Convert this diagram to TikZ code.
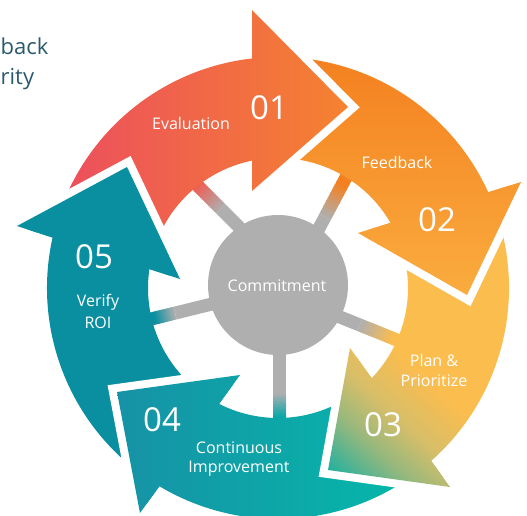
\documentclass[tikz,border=0pt]{standalone}
\usepackage{fontspec}
\setmainfont{Open Sans}
\usetikzlibrary{calc}
\definecolor{cgray}{RGB}{175,175,175}
\definecolor{c1a}{RGB}{236,78,94}
\definecolor{c1m}{RGB}{240,92,82}
\definecolor{c1b}{RGB}{245,130,48}
\definecolor{c2a}{RGB}{244,128,32}
\definecolor{c2b}{RGB}{250,172,62}
\definecolor{c3y}{RGB}{251,189,78}
\definecolor{c3m}{RGB}{215,190,105}
\definecolor{c3g}{RGB}{150,184,125}
\definecolor{c3t}{RGB}{30,176,160}
\definecolor{c4a}{RGB}{22,146,166}
\definecolor{c4b}{RGB}{5,185,170}
\definecolor{c5}{RGB}{9,143,160}
\definecolor{ctxt}{RGB}{42,90,110}
\pgfdeclarehorizontalshading{shthree}{100bp}{color(0bp)=(c3t); color(17bp)=(c3t); color(27bp)=(c3g); color(35bp)=(c3m); color(45bp)=(c3y); color(100bp)=(c3y)}
% arrow outlines (body sector + head triangle)
\newcommand\pthA{($(C)+(162:231)$) arc[start angle=162,end angle=91,radius=231] -- ($(C)+(91:130)$) arc[start angle=91,end angle=162,radius=130] -- cycle (252,-10) -- (348,-107) -- (252,-191) -- cycle}
\newcommand\hdA{(252,-10) -- (348,-107) -- (252,-191) -- cycle}
\newcommand\egA{(252,-10) -- (348,-107) -- (252,-191)}
\newcommand\pthB{($(C)+(91:231)$) arc[start angle=91,end angle=20,radius=231] -- ($(C)+(20:130)$) arc[start angle=20,end angle=91,radius=130] -- cycle (521,-182) -- (467,-295) -- (358,-233) -- cycle}
\newcommand\hdB{(521,-182) -- (467,-295) -- (358,-233) -- cycle}
\newcommand\egB{(521,-182) -- (467,-295) -- (358,-233)}
\newcommand\pthC{($(C)+(20:231)$) arc[start angle=20,end angle=-52,radius=231] -- ($(C)+(-52:130)$) arc[start angle=-52,end angle=20,radius=130] -- cycle (450,-487) -- (328,-470) -- (350,-348) -- cycle}
\newcommand\hdC{(450,-487) -- (328,-470) -- (350,-348) -- cycle}
\newcommand\egC{(450,-487) -- (328,-470) -- (350,-348)}
\newcommand\pthD{($(C)+(-52:231)$) arc[start angle=-52,end angle=-125,radius=231] -- ($(C)+(-125:130)$) arc[start angle=-125,end angle=-52,radius=130] -- cycle (140,-513) -- (117,-392) -- (240,-375) -- cycle}
\newcommand\hdD{(140,-513) -- (117,-392) -- (240,-375) -- cycle}
\newcommand\egD{(140,-513) -- (117,-392) -- (240,-375)}
\newcommand\pthE{($(C)+(235:231)$) arc[start angle=235,end angle=162,radius=231] -- ($(C)+(162:130)$) arc[start angle=162,end angle=235,radius=130] -- cycle (17,-226) -- (127,-167) -- (180,-279) -- cycle}
\newcommand\hdE{(17,-226) -- (127,-167) -- (180,-279) -- cycle}
\newcommand\egE{(17,-226) -- (127,-167) -- (180,-279)}
% spoke with colour blend: start, end, colour, blend from, blend to
\newcommand\spokeblend[5]{%
  \draw[spokeline, draw=cgray] (#1) -- ($(#1)!#4!(#2)$);
  \foreach \i in {0,...,11}{%
    \pgfmathsetmacro\fa{#4+(#5-#4)*\i/12}%
    \pgfmathsetmacro\fb{#4+(#5-#4)*(\i+1)/12+0.01}%
    \pgfmathtruncatemacro\pc{100*(\i+0.5)/12}%
    \draw[spokeline, draw=#3!\pc!cgray] ($(#1)!\fa!(#2)$) -- ($(#1)!\fb!(#2)$);
  }%
  \draw[spokeline, draw=#3] ($(#1)!#5!(#2)$) -- (#2);
}
\tikzset{
  spokeline/.style={line width=13pt, line cap=butt},
  gapline/.style={draw=white, line width=16pt, line join=miter},
  shA/.style={left color=c1a, middle color=c1m, right color=c1b},
  shB/.style={top color=c2a, middle color=c2a, bottom color=c2b},
  shC/.style={shading=shthree, shading angle=48},
  shD/.style={left color=c4a, right color=c4b},
  lbl/.style={text=white, inner sep=0pt, font=\fontsize{16}{20}\selectfont, align=center},
  num/.style={text=white, inner sep=0pt, font=\fontsize{33}{36}\selectfont},
  toptxt/.style={text=ctxt, inner sep=0pt, font=\fontsize{22}{26}\selectfont, anchor=base west}
}
\begin{document}
\begin{tikzpicture}[x=1pt,y=1pt]
\useasboundingbox (0,0) rectangle (527,-516);
\clip (0,0) rectangle (527,-516);
\coordinate (C) at (278,-288);

% partial text at top left
\node[toptxt] (tback) at (0.5,-55) {back};
\node[toptxt] (trity) at (0.5,-85) {rity};

% spokes
\coordinate (s1a) at (240,-228); \coordinate (s1b) at (190,-178);
\coordinate (s2a) at (316,-234); \coordinate (s2b) at (352,-166);
\coordinate (s3a) at (335,-315); \coordinate (s3b) at (402,-342);
\coordinate (s4a) at (279.5,-350); \coordinate (s4b) at (279.5,-422);
\coordinate (s5a) at (212,-304); \coordinate (s5b) at (145,-320.5);
\spokeblend{s1a}{s1b}{c1m}{0.38}{0.85}
\spokeblend{s2a}{s2b}{c2a}{0.25}{0.72}
\spokeblend{s3a}{s3b}{c3y}{0.37}{0.86}
\spokeblend{s4a}{s4b}{c4b!55!c4a}{0.6}{0.92}
\spokeblend{s5a}{s5b}{c5}{0.55}{0.85}

% centre
\node[circle, fill=cgray, minimum size=140pt, inner sep=0pt] (core) at (278,-285) {};
\node[lbl] (tcore) at (277,-286) {Commitment};

% arrows, full shapes
\shade[shA] \pthA;
\shade[shB] \pthB;
\shade[shC] \pthC;
\shade[shD] \pthD;
\fill[c5] \pthE;

% heads on top with white gaps
\draw[gapline] \egA;
\begin{scope}\clip \hdA; \shade[shA] \pthA; \end{scope}
\draw[gapline] \egB;
\begin{scope}\clip \hdB; \shade[shB] \pthB; \end{scope}
\draw[gapline] \egC;
\begin{scope}\clip \hdC; \shade[shC] \pthC; \end{scope}
\draw[gapline] \egD;
\begin{scope}\clip \hdD; \shade[shD] \pthD; \end{scope}
\draw[gapline] \egE;
\fill[c5] \hdE;

% labels
\node[lbl] (tEval) at (191,-124) {Evaluation};
\node[num] (n1) at (269,-108) {01};
\node[lbl] (tFeed) at (397,-162) {Feedback};
\node[num] (n2) at (437,-220) {02};
\node[lbl] (tPlan) at (434,-370) {Plan \&\\Prioritize};
\node[num] (n3) at (383,-425) {03};
\node[num] (n4) at (162,-420) {04};
\node[lbl, font=\fontsize{16}{18.5}\selectfont] (tCont) at (239,-459) {Continuous\\Improvement};
\node[num] (n5) at (94,-257) {05};
\node[lbl, font=\fontsize{16}{22}\selectfont] (tVer) at (98,-311) {Verify\\ROI};
\end{tikzpicture}
\end{document}
